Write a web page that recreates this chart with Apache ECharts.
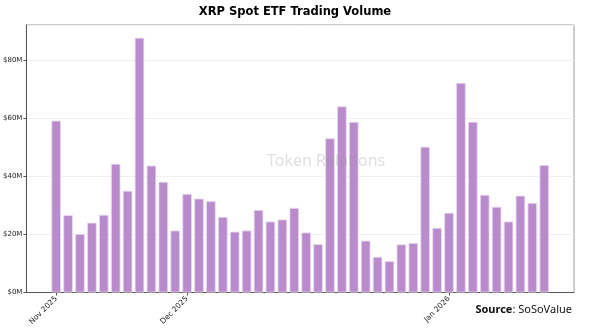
<!DOCTYPE html>
<html>
<head>
<meta charset="utf-8">
<script src="https://cdn.jsdelivr.net/npm/echarts@6/dist/echarts.min.js"></script>
<style>html,body{margin:0;padding:0;background:#fff;}#chart{width:590px;height:328px;}</style>
</head>
<body>
<div id="chart"></div>
<script>
// Trading days (category axis)
var dates = [
  '2025-11-13','2025-11-14','2025-11-17','2025-11-18','2025-11-19','2025-11-20','2025-11-21',
  '2025-11-24','2025-11-25','2025-11-26','2025-11-28',
  '2025-12-01','2025-12-02','2025-12-03','2025-12-04','2025-12-05','2025-12-08','2025-12-09',
  '2025-12-10','2025-12-11','2025-12-12','2025-12-15','2025-12-16','2025-12-17','2025-12-18',
  '2025-12-19','2025-12-22','2025-12-23','2025-12-24','2025-12-26','2025-12-29','2025-12-30','2025-12-31',
  '2026-01-02','2026-01-05','2026-01-06','2026-01-07','2026-01-08','2026-01-09','2026-01-12',
  '2026-01-13','2026-01-14'
];
// Daily trading volume, $M
var volumes = [
  59.3, 26.7, 20.2, 24.1, 26.8, 44.4, 35.1, 87.9, 43.8, 38.2,
  21.4, 34.0, 32.4, 31.5, 26.1, 21.0, 21.4, 28.5, 24.5, 25.2,
  29.2, 20.7, 16.7, 53.2, 64.2, 58.9, 17.9, 12.3, 10.8, 16.6,
  17.1, 50.3, 22.3, 27.5, 72.3, 58.9, 33.7, 29.6, 24.5, 33.4,
  30.9, 44.0
];
// Month tick labels
var tickDates = ['2025-11-13', '2025-12-01', '2026-01-02'];
var tickLabels = ['Nov 2025', 'Dec 2025', 'Jan 2026'];
var yTicks = [0, 20, 40, 60, 80];

// axis padding (matplotlib-style margins) with empty categories
var pad = 2;
var cats = [], vals = [];
for (var i = 0; i < pad; i++) { cats.push('pad_l' + i); vals.push(null); }
dates.forEach(function (d, i) { cats.push(d); vals.push(volumes[i]); });
for (var j = 0; j < pad; j++) { cats.push('pad_r' + j); vals.push(null); }

function isTick(idx, val) { return tickDates.indexOf(val) >= 0; }

var chart = echarts.init(document.getElementById('chart'));
chart.setOption({
  animation: false,
  backgroundColor: '#fff',
  title: {
    text: 'XRP Spot ETF Trading Volume',
    left: 'center',
    top: 1,
    textStyle: { fontFamily: 'DejaVu Sans', fontWeight: 'bold', fontSize: 11.5, color: '#000' }
  },
  grid: {
    left: 26, right: 16, top: 25, bottom: 35,
    show: true, borderColor: '#9a9a9a', borderWidth: 1, backgroundColor: 'transparent'
  },
  xAxis: {
    type: 'category',
    data: cats,
    boundaryGap: true,
    axisLine: { show: true, lineStyle: { color: '#555', width: 1 } },
    axisTick: { show: true, interval: isTick, alignWithLabel: true, length: 3, lineStyle: { color: '#555' } },
    axisLabel: {
      interval: isTick,
      rotate: 45,
      fontFamily: 'DejaVu Sans',
      fontSize: 7.5,
      color: '#222',
      margin: 5,
      formatter: function (v) { var k = tickDates.indexOf(v); return k >= 0 ? tickLabels[k] : ''; }
    },
    splitLine: { show: false }
  },
  yAxis: {
    type: 'value',
    min: 0,
    max: 92.3,
    interval: 20,
    axisLine: { show: true, lineStyle: { color: '#555', width: 1 } },
    axisTick: { show: true, length: 3, lineStyle: { color: '#555' } },
    axisLabel: {
      fontFamily: 'DejaVu Sans', fontSize: 7, color: '#222', margin: 4,
      showMaxLabel: false,
      formatter: function (v) { return yTicks.indexOf(v) >= 0 ? '$' + v + 'M' : ''; }
    },
    splitLine: { show: true, lineStyle: { color: '#f0f0f0', width: 1 } }
  },
  series: [{
    type: 'bar',
    data: vals,
    barWidth: '80%',
    itemStyle: { color: '#b98bcc', borderColor: '#e8d9ee', borderWidth: 0.8 }
  }],
  graphic: [
    {
      type: 'text', left: 267, top: 153, z: 100,
      style: { text: 'Token Relations', fontFamily: 'Noto Sans', fontSize: 16, fill: 'rgba(150,150,150,0.3)' }
    },
    {
      type: 'text', right: 18, top: 304,
      style: {
        text: '{b|Source}: SoSoValue',
        fontFamily: 'Noto Sans', fontSize: 11, fill: '#111',
        rich: { b: { fontWeight: 'bold', fontFamily: 'Noto Sans', fontSize: 11, fill: '#111' } }
      }
    }
  ]
});
</script>
</body>
</html>
